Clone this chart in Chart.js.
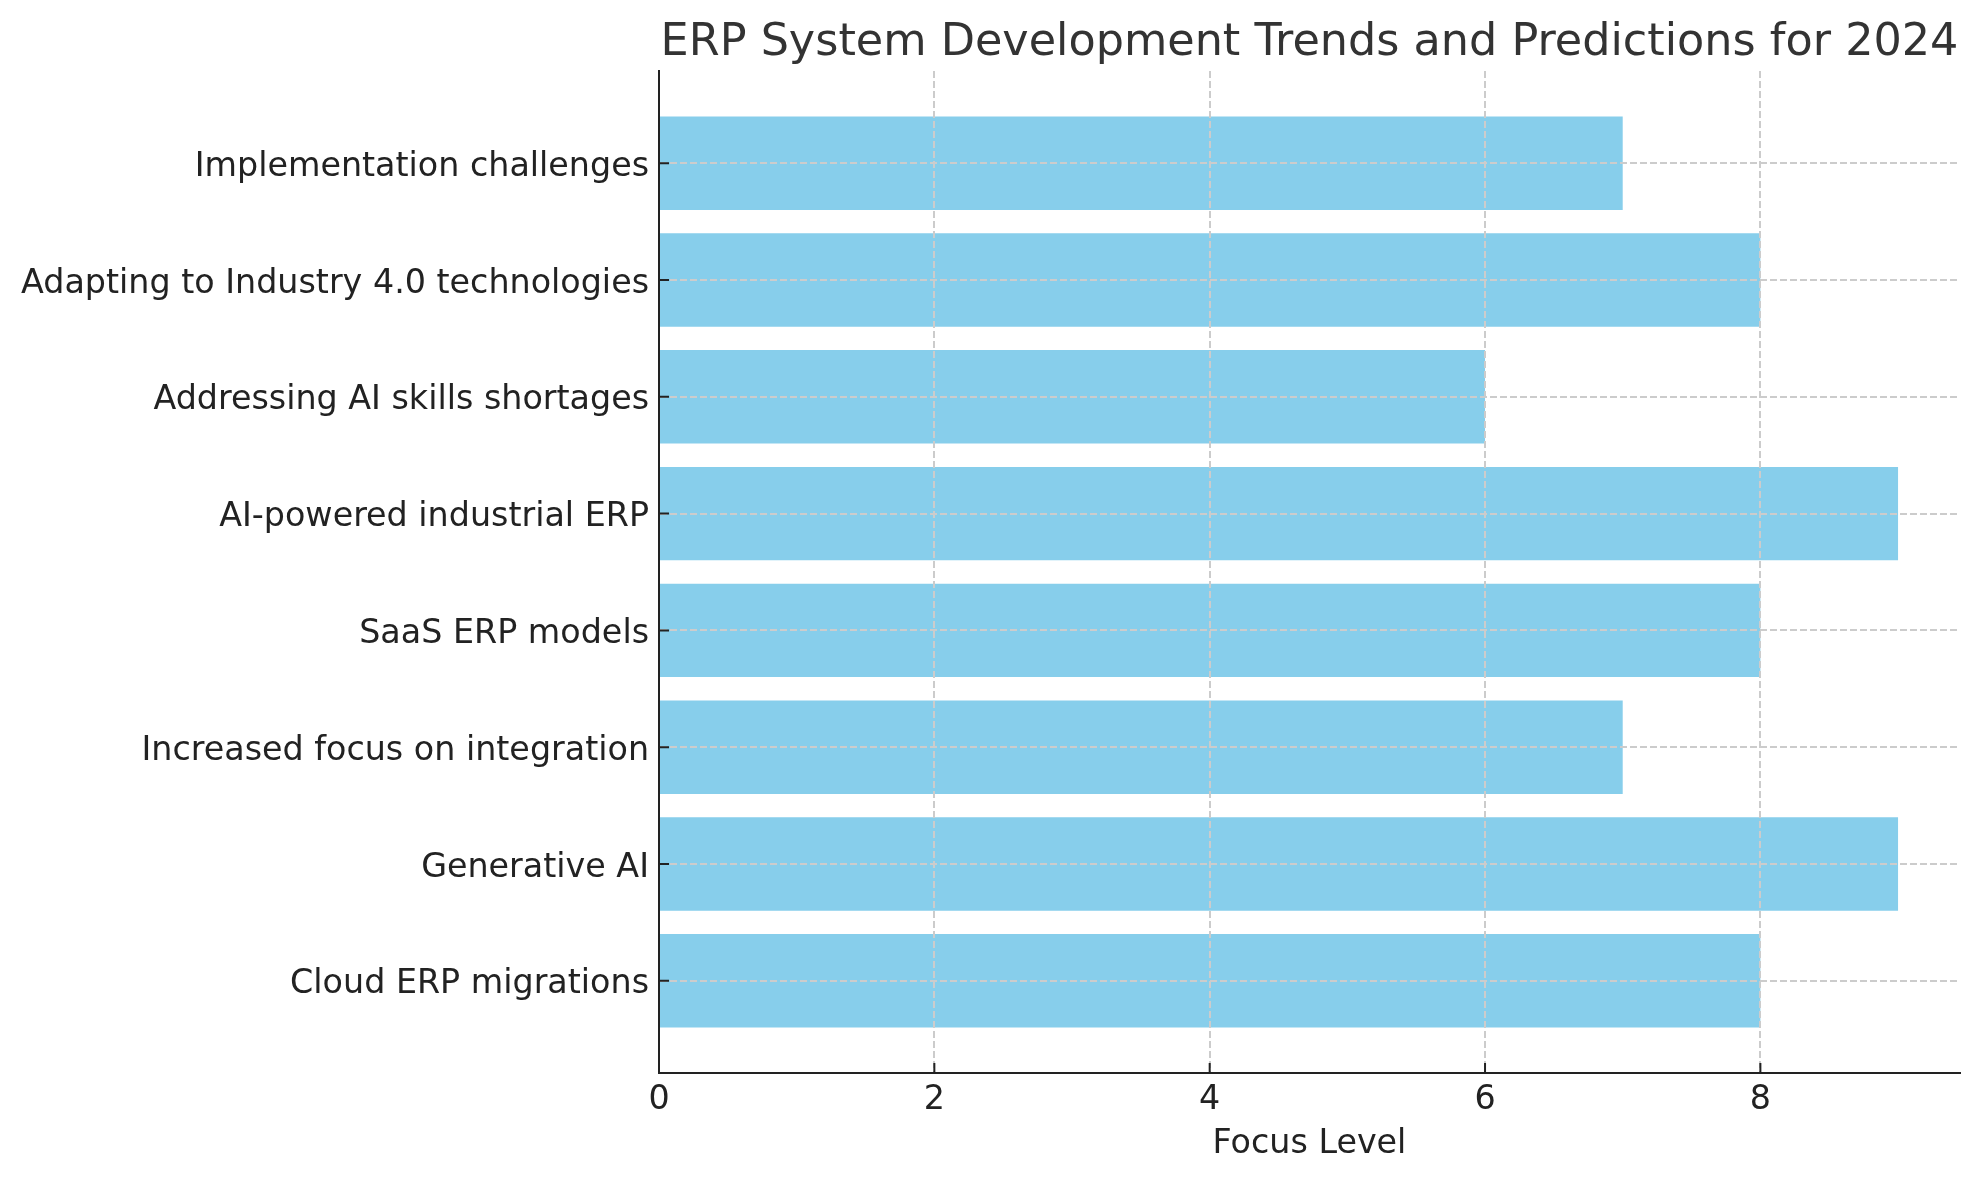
<!DOCTYPE html>
<html>
<head>
<meta charset="utf-8">
<script src="https://cdn.jsdelivr.net/npm/chart.js@4/dist/chart.umd.min.js"></script>
<style>
  html, body { margin: 0; padding: 0; background: #ffffff; }
  #wrap { width: 1979px; height: 1180px; position: relative; }
</style>
</head>
<body>
<div id="wrap"><canvas id="c"></canvas></div>
<script>
// Categories listed bottom-to-top (index 0 at the bottom)
const categories = [
  "Cloud ERP migrations",
  "Generative AI",
  "Increased focus on integration",
  "SaaS ERP models",
  "AI-powered industrial ERP",
  "Addressing AI skills shortages",
  "Adapting to Industry 4.0 technologies",
  "Implementation challenges"
];
const focusLevels = [8, 9, 7, 8, 9, 6, 8, 7];
const xTickValues = [0, 2, 4, 6, 8];
const chartTitle = "ERP System Development Trends and Predictions for 2024";
const xAxisTitle = "Focus Level";

const FONT = "'DejaVu Sans', 'Liberation Sans', sans-serif";
const gridColor = '#cccccc';

const innerTicks = {
  id: 'innerTicks',
  afterDraw(chart) {
    const ctx = chart.ctx;
    const xs = chart.scales.x, ys = chart.scales.y;
    const a = chart.chartArea;
    ctx.save();
    ctx.strokeStyle = '#222222';
    ctx.lineWidth = 2;
    ctx.setLineDash([]);
    ctx.beginPath();
    xs.ticks.forEach(t => {
      const px = xs.getPixelForValue(t.value);
      ctx.moveTo(px, a.bottom);
      ctx.lineTo(px, a.bottom - 10);
    });
    ys.ticks.forEach(t => {
      const py = ys.getPixelForValue(t.value);
      ctx.moveTo(a.left, py);
      ctx.lineTo(a.left + 10, py);
    });
    ctx.stroke();
    ctx.restore();
  }
};

new Chart(document.getElementById('c'), {
  type: 'bar',
  data: {
    datasets: [{
      data: focusLevels.map((v, i) => ({ x: v, y: i })),
      backgroundColor: '#87CEEB',
      borderWidth: 0,
      categoryPercentage: 1.0,
      barPercentage: 0.8
    }]
  },
  options: {
    indexAxis: 'y',
    responsive: true,
    maintainAspectRatio: false,
    animation: false,
    devicePixelRatio: 1,
    layout: { padding: { left: 0, right: 19, top: 0, bottom: 0 } },
    plugins: {
      legend: { display: false },
      tooltip: { enabled: false },
      title: {
        display: true,
        text: chartTitle,
        fullSize: false,
        color: '#333333',
        font: { family: FONT, size: 44.5, weight: 'normal', lineHeight: 1.2 },
        padding: { top: 17, bottom: 0.6 }
      }
    },
    scales: {
      x: {
        type: 'linear',
        min: 0,
        max: 9.45,
        offset: false,
        afterBuildTicks: s => { s.ticks = xTickValues.map(v => ({ value: v })); },
        afterFit: s => { s.height = 107; },
        ticks: {
          color: '#222222',
          font: { family: FONT, size: 33.33 },
          padding: 7.5,
          maxRotation: 0,
          autoSkip: false
        },
        grid: {
          display: true,
          drawTicks: false,
          offset: false,
          color: gridColor,
          lineWidth: 2,
          z: 1
        },
        border: { display: true, color: '#222222', width: 2, dash: [7, 3], z: 2 },
        title: {
          display: true,
          text: xAxisTitle,
          color: '#222222',
          font: { family: FONT, size: 33.33, lineHeight: 1.2 },
          padding: { top: 0, bottom: 15.5 }
        }
      },
      y: {
        type: 'linear',
        min: -0.79,
        max: 7.79,
        offset: false,
        afterBuildTicks: s => { s.ticks = categories.map((_, i) => ({ value: i })); },
        afterFit: s => { s.width = 659; },
        ticks: {
          color: '#222222',
          font: { family: FONT, size: 33.33 },
          padding: 10,
          labelOffset: 4,
          autoSkip: false,
          callback: v => categories[v]
        },
        grid: {
          display: true,
          drawTicks: false,
          offset: false,
          color: gridColor,
          lineWidth: 2,
          z: 1
        },
        border: { display: true, color: '#222222', width: 2, dash: [7, 3], z: 2 }
      }
    }
  },
  plugins: [innerTicks]
});
</script>
</body>
</html>
